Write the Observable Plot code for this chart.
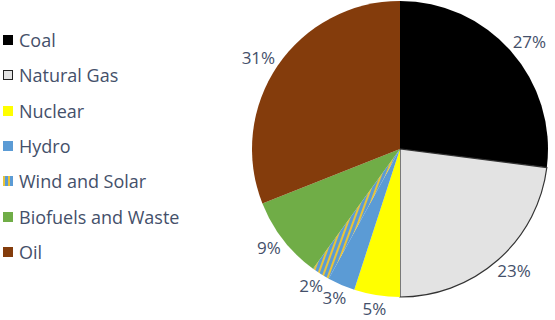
<!DOCTYPE html>
<html><head><meta charset="utf-8">
<script src="https://cdn.jsdelivr.net/npm/d3@7"></script>
<script src="https://cdn.jsdelivr.net/npm/@observablehq/plot@0.6"></script>
<style>
body{margin:0;background:#fff;}
#wrap{position:relative;width:555px;height:320px;font-family:"Open Sans",sans-serif;}
#legend{position:absolute;left:0;top:0;width:220px;height:320px;}
.item{position:absolute;left:3px;display:flex;align-items:center;font-size:18px;color:#44506a;white-space:nowrap;transform:translateY(-50%);}
.sw{width:10px;height:10px;margin-right:6px;box-sizing:border-box;flex:none;}
</style></head>
<body><div id="wrap"><div id="legend"></div></div>
<script>
const categories = ["Coal","Natural Gas","Nuclear","Hydro","Wind and Solar","Biofuels and Waste","Oil"];
const shares = [27,23,5,3,2,9,31];
const labels = ["27%","23%","5%","3%","2%","9%","31%"];
const colors = ["#000000","#e3e3e3","#ffff00","#5b9bd5","url(#windsolar)","#70ad47","#843c0c"];
const strokes = ["none","#333333","none","none","none","none","none"];

const W = 555, H = 320, ML = 252, MR = 7, MT = 1, MB = 23;
const rPx = (W - ML - MR) / 2;
const labelSize = 17;

const arcs = d3.pie().sort(null).value(d => d.share)(
  categories.map((c, i) => ({category: c, share: shares[i], label: labels[i], fill: colors[i], stroke: strokes[i]}))
);
// outside-end labels: box edge sits a fixed gap outside the rim
const gapPx = 8;
const labelData = arcs.map(a => {
  const m = (a.startAngle + a.endAngle) / 2;
  const hw = a.data.label.length * labelSize * 0.31, hh = labelSize * 0.36;
  const s = Math.sin(m), c = Math.cos(m);
  return {
    x: ((rPx + gapPx) * s + hw * s) / rPx,
    y: ((rPx + gapPx) * c + hh * c) / rPx,
    label: a.data.label
  };
});

function pieMark(index, scales) {
  const cx = scales.x(0), cy = scales.y(0);
  const r = scales.x(1) - scales.x(0);
  const g = d3.create("svg:g");
  const pat = g.append("defs").append("pattern")
    .attr("id", "windsolar").attr("patternUnits", "userSpaceOnUse")
    .attr("width", 5).attr("height", 5).attr("patternTransform", "rotate(20)");
  pat.append("rect").attr("width", 5).attr("height", 5).attr("fill", "#5b9bd5");
  pat.append("rect").attr("width", 2).attr("height", 5).attr("fill", "#e8c43a");
  const arc = d3.arc().innerRadius(0).outerRadius(r);
  g.attr("transform", `translate(${cx},${cy})`)
    .selectAll("path").data(arcs).join("path")
    .attr("d", arc)
    .attr("fill", d => d.data.fill)
    .attr("stroke", d => d.data.stroke)
    .attr("stroke-width", 1.2);
  return g.node();
}

const chart = Plot.plot({
  width: W, height: H,
  marginLeft: ML, marginRight: MR, marginTop: MT, marginBottom: MB,
  x: {domain: [-1, 1], axis: null},
  y: {domain: [-1, 1], axis: null},
  style: {fontFamily: '"Open Sans", sans-serif', background: "#fff"},
  marks: [
    pieMark,
    Plot.text(labelData, {x: "x", y: "y", text: "label", fontSize: labelSize, fill: "#44506a"})
  ]
});
document.getElementById("wrap").appendChild(chart);

const legendY = [40, 75.3, 110.6, 146, 181.3, 216.6, 252];
const legend = document.getElementById("legend");
categories.forEach((c, i) => {
  const it = document.createElement("div");
  it.className = "item";
  it.style.top = legendY[i] + "px";
  const sw = document.createElement("span");
  sw.className = "sw";
  if (i === 4) sw.style.background = "repeating-linear-gradient(90deg,#e8c43a 0 2px,#5b9bd5 2px 5px)";
  else sw.style.background = colors[i];
  if (i === 1) sw.style.border = "1.5px solid #222";
  it.appendChild(sw);
  it.appendChild(document.createTextNode(c));
  legend.appendChild(it);
});
</script>
</body></html>
